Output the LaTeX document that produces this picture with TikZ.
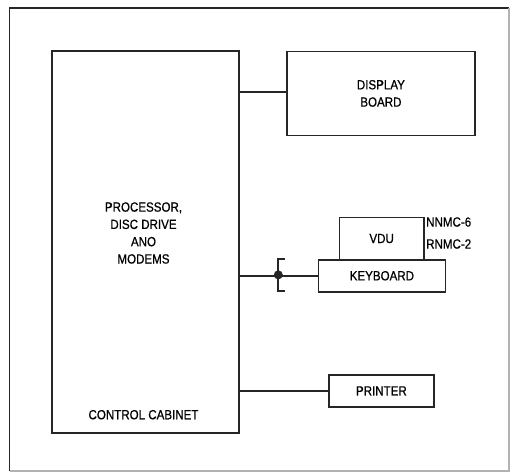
\documentclass[tikz,border=0pt]{standalone}
\usepackage{fontspec}
\setmainfont{Liberation Sans}[FakeStretch=0.87,FakeBold=0.7]
\begin{document}
\begin{tikzpicture}[x=1pt,y=-1pt,
  box/.style={draw=black!85,line width=1.8pt,inner sep=0pt,anchor=north west,font=\lbl},
  wire/.style={draw=black!85,line width=1.8pt},
  txt/.style={inner sep=0pt,font=\lbl,align=center},
  jdot/.style={circle,fill=black!85,inner sep=0pt,minimum size=9pt}]
\newcommand{\lbl}{\fontsize{13.3}{17.3}\selectfont}
\useasboundingbox (0,0) rectangle (510,472);
\fill[white] (0,0) rectangle (510,472);
% frame
\draw[line width=1.8pt,black!85] (9.5,471) -- (9.5,8) -- (509,8);
\draw[line width=1.2pt,black!30] (509,8) -- (509,471) -- (9.5,471);
% boxes
\node[box,minimum width=187pt,minimum height=382pt] (main) at (51,50) {};
\node[txt] (proc) at (143.5,233) {PROCESSOR,\\DISC DRIVE\\ANO\\MODEMS};
\node[txt] (cab) at (143.5,414.7) {CONTROL CABINET};
\node[box,minimum width=188pt,minimum height=84pt,align=center] (disp) at (286,50.5) {DISPLAY\\BOARD};
\node[box,minimum width=84.5pt,minimum height=42.2pt] (vdu) at (338.5,216.5) {VDU};
\node[box,minimum width=127pt,minimum height=32.3pt] (kbd) at (317.5,258.7) {KEYBOARD};
\node[box,minimum width=105pt,minimum height=32pt] (prn) at (328,374) {PRINTER};
\node[txt,anchor=west] (nn) at (426,222) {NNMC-6};
\node[txt,anchor=west] (rn) at (426,244) {RNMC-2};
% connectors
\draw[wire] (main.east |- 0,92) -- (disp.west |- 0,92);
\draw[wire] (main.east |- kbd.west) -- (kbd.west);
\draw[wire] (main.east |- prn.west) -- (prn.west);
\node[jdot] (jn) at (278.3,274.85) {};
\draw[wire] (285,258.7) -- (278.3,258.7) -- (278.3,291.3) -- (285,291.3);
\end{tikzpicture}
\end{document}
